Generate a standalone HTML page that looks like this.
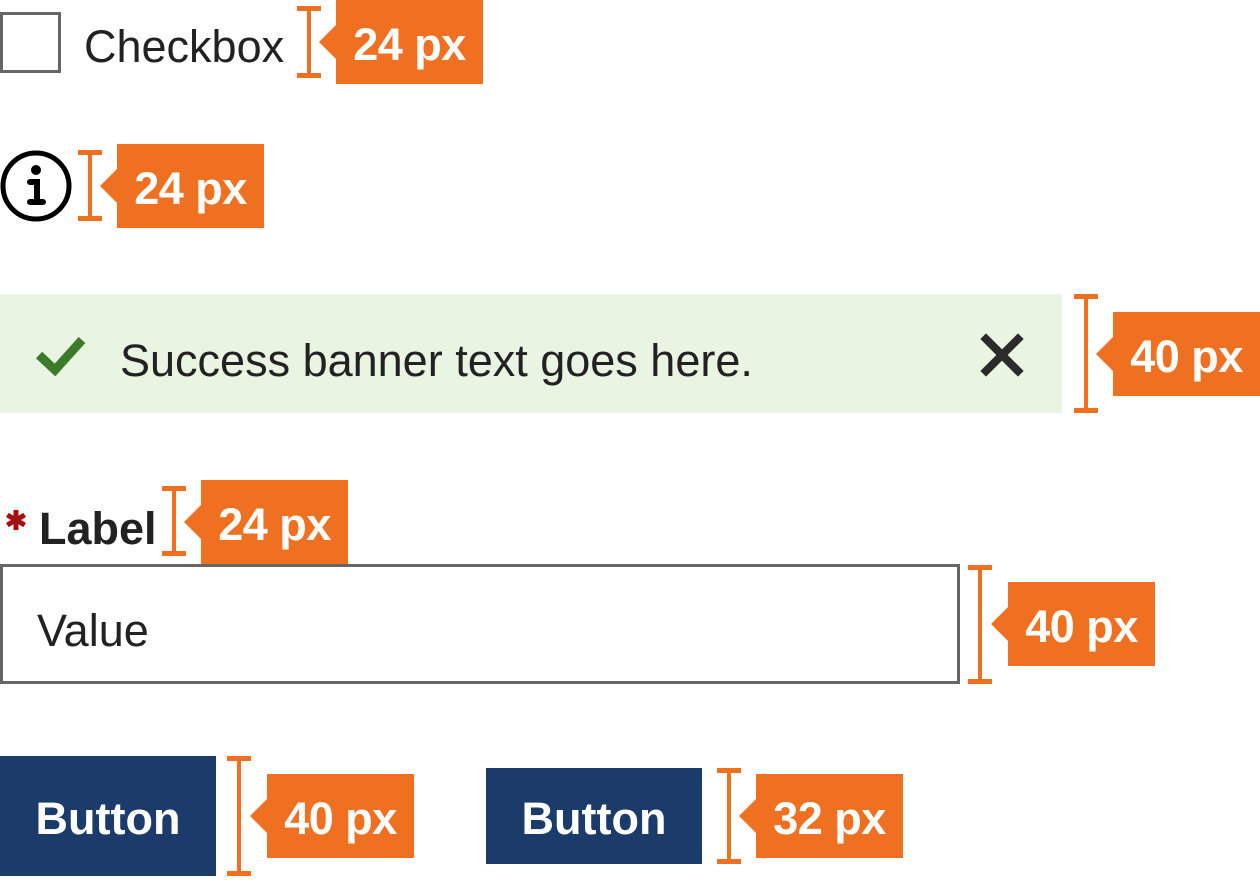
<!DOCTYPE html>
<html><head><meta charset="utf-8"><style>
html,body{margin:0;padding:0;background:#fff;}
body{width:1260px;height:876px;position:relative;overflow:hidden;font-family:"Liberation Sans",sans-serif;}
.a{position:absolute;}
.br{position:absolute;width:24px;}
.br::before,.br::after{content:"";position:absolute;left:0;width:24px;height:5px;background:#f07021;}
.br::before{top:0}.br::after{bottom:0}
.br i{position:absolute;left:10px;top:0;bottom:0;width:4px;background:#f07021;}
.tag{position:absolute;width:147px;height:84px;background:#f07021;color:#fff;font-weight:bold;font-size:45px;line-height:90px;text-align:center;letter-spacing:-0.5px;}
.tag::before{content:"";position:absolute;left:-17px;top:25px;border-right:17px solid #f07021;border-top:17px solid transparent;border-bottom:17px solid transparent;}
.t{position:absolute;color:#222;font-size:45px;white-space:nowrap;line-height:1;}
</style></head><body>
<!-- checkbox -->
<div class="a" style="left:0;top:12px;width:55px;height:55px;border:3px solid #666;"></div>
<div class="t" style="left:84px;top:24px;">Checkbox</div>
<div class="br" style="left:297px;top:6px;height:72px"><i></i></div>
<div class="tag" style="left:336px;top:0">24 px</div>
<!-- info -->
<svg class="a" style="left:0;top:150px" width="74" height="74" viewBox="0 0 74 74">
<circle cx="36" cy="36" r="33" fill="none" stroke="#000" stroke-width="5"/>
<circle cx="36" cy="20" r="5" fill="#000"/>
<path d="M30 32 H37 V51 M30 52 H43" fill="none" stroke="#000" stroke-width="6" stroke-linecap="round"/>
</svg>
<div class="br" style="left:78px;top:150px;height:71px"><i></i></div>
<div class="tag" style="left:117px;top:144px">24 px</div>
<!-- banner -->
<div class="a" style="left:0;top:294px;width:1062px;height:119px;background:#e9f4e3;"></div>
<svg class="a" style="left:36px;top:333px" width="50" height="45" viewBox="0 0 50 45">
<path d="M3 22 L19 37 L46 7" fill="none" stroke="#3d7a2a" stroke-width="9"/>
</svg>
<div class="t" style="left:120px;top:338px;">Success banner text goes here.</div>
<svg class="a" style="left:980px;top:333px" width="44" height="44" viewBox="0 0 44 44">
<path d="M6 6 L38 38 M38 6 L6 38" stroke="#2b2b2b" stroke-width="8" stroke-linecap="square"/>
</svg>
<div class="br" style="left:1074px;top:294px;height:119px"><i></i></div>
<div class="tag" style="left:1113px;top:312px">40 px</div>
<!-- label -->
<svg class="a" style="left:4px;top:508px" width="24" height="24" viewBox="0 0 24 24">
<path d="M12 2 V22 M3.3 7 L20.7 17 M20.7 7 L3.3 17" stroke="#a50f0f" stroke-width="5"/>
</svg>
<div class="t" style="left:39px;top:506px;font-weight:bold;">Label</div>
<div class="br" style="left:162px;top:486px;height:70px"><i></i></div>
<div class="tag" style="left:201px;top:480px">24 px</div>
<!-- input -->
<div class="a" style="left:0;top:564px;width:954px;height:114px;border:3px solid #666;"></div>
<div class="t" style="left:37px;top:608px;">Value</div>
<div class="br" style="left:968px;top:565px;height:119px"><i></i></div>
<div class="tag" style="left:1008px;top:582px">40 px</div>
<!-- buttons -->
<div class="a" style="left:0;top:756px;width:216px;height:120px;background:#1b3c6a;color:#fff;font-weight:bold;font-size:45px;line-height:126px;text-align:center;">Button</div>
<div class="br" style="left:227px;top:756px;height:120px"><i></i></div>
<div class="tag" style="left:267px;top:774px">40 px</div>
<div class="a" style="left:486px;top:768px;width:216px;height:96px;background:#1b3c6a;color:#fff;font-weight:bold;font-size:45px;line-height:102px;text-align:center;">Button</div>
<div class="br" style="left:717px;top:768px;height:96px"><i></i></div>
<div class="tag" style="left:756px;top:774px">32 px</div>
</body></html>
